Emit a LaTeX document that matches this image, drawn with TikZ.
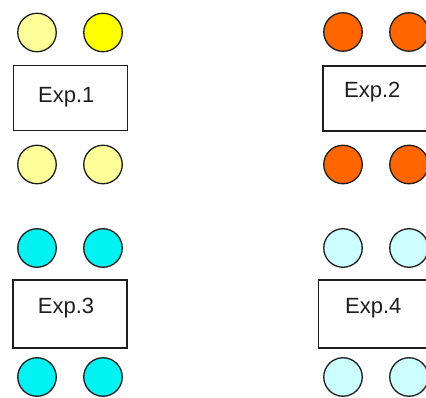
\documentclass[tikz,border=0pt]{standalone}
\usepackage{fontspec}
\setmainfont{Liberation Sans}
\usepackage{tikz}
\usepackage{xcolor}
\usetikzlibrary{positioning}
\definecolor{ink}{HTML}{1E1E1E}
\definecolor{paleyellow}{HTML}{FFFF99}
\definecolor{brightyellow}{HTML}{FFFF00}
\definecolor{orangedot}{HTML}{FF6600}
\definecolor{cyandot}{HTML}{00F2F2}
\definecolor{palecyan}{HTML}{CCFFFF}
\tikzset{
  dot/.style={circle,draw=ink,line width=1.3pt,minimum size=38.5pt,inner sep=0pt},
  expbox/.style={draw=ink,fill=white,line width=1.6pt,minimum width=114pt,
                 inner sep=0pt},
  explabel/.style={font=\fontsize{22}{26}\selectfont,text=ink,inner sep=0pt,
                   anchor=base west}
}

\begin{document}
\begin{tikzpicture}[x=1pt,y=-1pt]
    \path[use as bounding box] (0,0) rectangle (426,398);
    \clip (0,0) rectangle (426,398);

    % Exp.1
    \node[dot,fill=paleyellow] (a1) at (37,32.5) {};
    \node[dot,fill=brightyellow] (a2) at (103,32.5) {};
    \node[expbox,minimum height=65pt] (box1) at (70.3,98.2) {};
    \node[explabel] (lab1) at (38,103) {Exp.1};
    \node[dot,fill=paleyellow] (a3) at (37,164.5) {};
    \node[dot,fill=paleyellow] (a4) at (103,164.5) {};

    % Exp.2
    \node[dot,fill=orangedot] (b1) at (343,32) {};
    \node[dot,fill=orangedot] (b2) at (409,32) {};
    \node[expbox,minimum height=65pt] (box2) at (379.7,98.3) {};
    \node[explabel] (lab2) at (344,97.5) {Exp.2};
    \node[dot,fill=orangedot] (b3) at (343,164.5) {};
    \node[dot,fill=orangedot] (b4) at (409,164.5) {};

    % Exp.3
    \node[dot,fill=cyandot] (c1) at (37,248) {};
    \node[dot,fill=cyandot] (c2) at (103,248) {};
    \node[expbox,minimum height=68pt] (box3) at (70,314) {};
    \node[explabel] (lab3) at (37.7,313.5) {Exp.3};
    \node[dot,fill=cyandot] (c3) at (37,377) {};
    \node[dot,fill=cyandot] (c4) at (103,377) {};

    % Exp.4
    \node[dot,fill=palecyan] (d1) at (343,248) {};
    \node[dot,fill=palecyan] (d2) at (409,248) {};
    \node[expbox,minimum height=68pt] (box4) at (375.3,314) {};
    \node[explabel] (lab4) at (345,313) {Exp.4};
    \node[dot,fill=palecyan] (d3) at (343,377) {};
    \node[dot,fill=palecyan] (d4) at (409,377) {};
  \end{tikzpicture}
\end{document}
